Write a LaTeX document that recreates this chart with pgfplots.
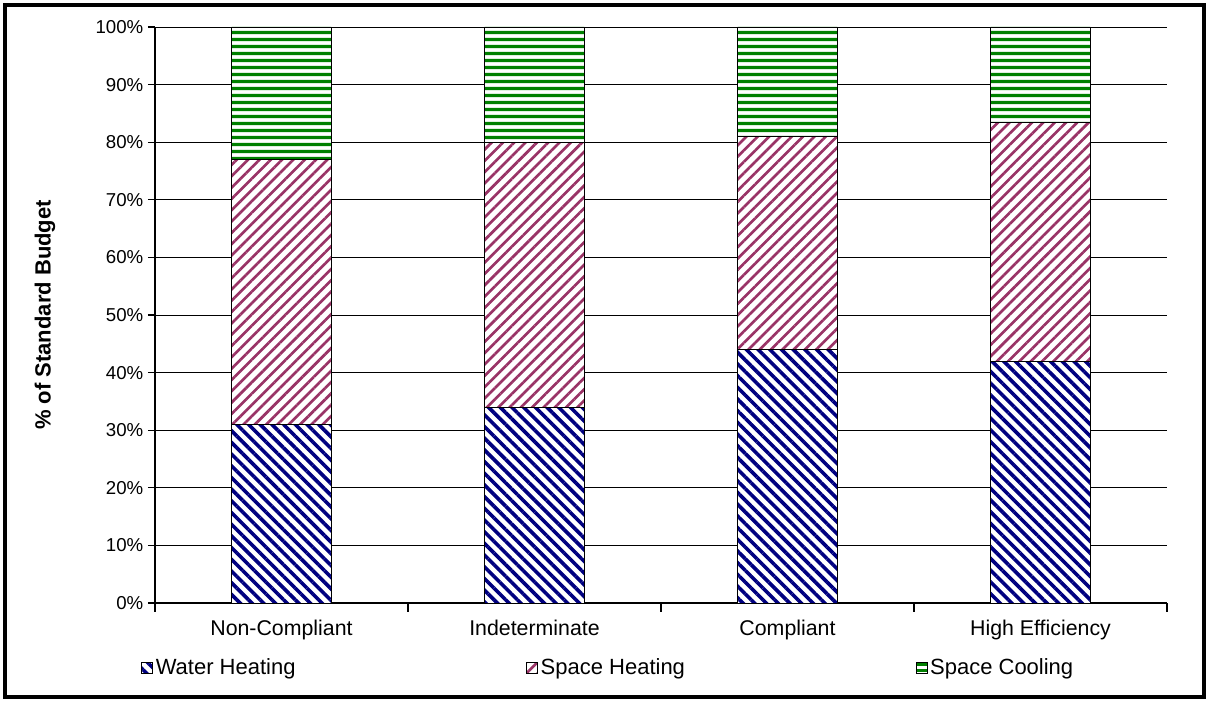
\documentclass[border=0pt]{standalone}
\usepackage{fontspec}
\setmainfont{Liberation Sans}
\usepackage{pgfplots}
\pgfplotsset{compat=1.18}
\usetikzlibrary{patterns,patterns.meta}
\definecolor{wnavy}{RGB}{0,0,128}
\definecolor{smaroon}{RGB}{153,51,102}
\definecolor{cgreen}{RGB}{0,128,0}
\pgfdeclarepatternformonly{hstripes}{\pgfpoint{0pt}{0pt}}{\pgfpoint{400pt}{5.2pt}}{\pgfpoint{400pt}{5.2pt}}{%
  \pgfpathrectangle{\pgfpoint{-1pt}{1.35pt}}{\pgfpoint{402pt}{2.5pt}}\pgfusepath{fill}}
\begin{document}
\begin{tikzpicture}
\useasboundingbox (-116.25pt,-74.25pt) rectangle (790.5pt,452.25pt);
\fill[white] (-116.25pt,-74.25pt) rectangle (790.5pt,452.25pt);
\draw[line width=3pt] (-112.5pt,-70.5pt) rectangle (786.75pt,448.5pt);
\begin{axis}[
 at={(0pt,0pt)}, anchor=south west,
 scale only axis, width=759pt, height=432pt,
 ybar stacked, bar width=0.395,
 xmin=-0.5, xmax=3.5, ymin=0, ymax=100,
 xtick={0,1,2,3},
 xticklabels={Non-Compliant,Indeterminate,Compliant,High Efficiency},
 minor xtick={-0.5,0.5,1.5,2.5,3.5},
 ytick={0,10,...,100},
 yticklabel={\pgfmathprintnumber{\tick}\%},
 /pgf/number format/assume math mode=true,
 axis x line*=bottom, axis y line*=left,
 axis line style={-, black, line width=0.8pt},
 tick align=outside, major tick length=5.25pt, minor tick length=6.75pt,
 tick style={black, line width=0.8pt},
 major x tick style={draw=none},
 ymajorgrids, grid style={black, line width=0.6pt},
 yticklabel style={font=\fontsize{14}{16}\selectfont},
 xticklabel style={font=\fontsize{16}{19}\selectfont, yshift=-4pt},
 ylabel={\% of Standard Budget},
 ylabel style={font=\bfseries\fontsize{16.5}{19}\selectfont, at={(axis description cs:-0.1087,0.5)}, anchor=center},
 legend columns=3,
 legend image code/.code={\draw[#1] (0pt,-4pt) rectangle (8.25pt,4pt);},
 legend style={at={(axis description cs:-0.0138,-0.1128)}, anchor=west, draw=none, fill=none, inner sep=0pt,
   font=\fontsize{16.5}{19}\selectfont,
   /tikz/every even column/.append style={column sep=171pt}},
]
\addplot[draw=black, line width=0.6pt, fill=white,
  postaction={pattern={Lines[angle=-45,distance=6.2pt,line width=2.7pt]}, pattern color=wnavy}]
 coordinates {(0,31) (1,34) (2,44) (3,42)};
\addplot[draw=black, line width=0.6pt, fill=white,
  postaction={pattern={Lines[angle=45,distance=6pt,line width=2pt]}, pattern color=smaroon}]
 coordinates {(0,46) (1,46) (2,37) (3,41.5)};
\addplot[draw=black, line width=0.6pt, fill=white,
  postaction={pattern=hstripes, pattern color=cgreen}]
 coordinates {(0,23) (1,20) (2,19) (3,16.5)};
\legend{Water Heating, Space Heating, Space Cooling}
\end{axis}
\end{tikzpicture}
\end{document}
